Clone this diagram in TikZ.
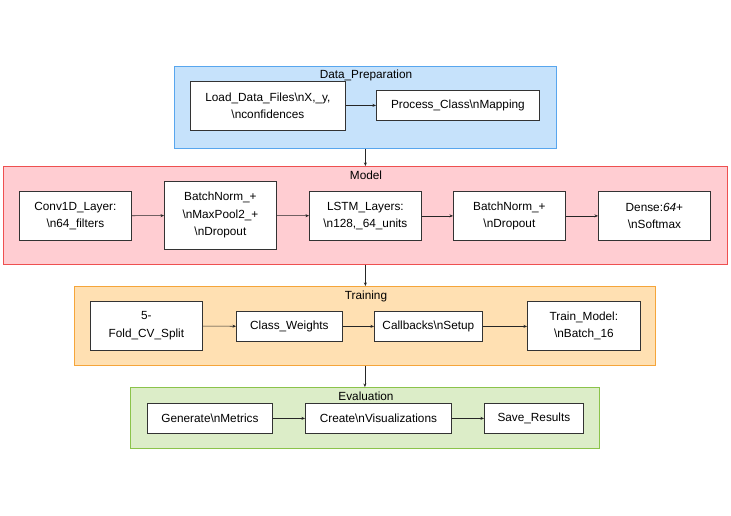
\documentclass[tikz,border=0pt]{standalone}
\usepackage{fontspec}
\setmainfont{Liberation Sans}
\usetikzlibrary{arrows.meta}
\definecolor{dpfill}{HTML}{C6E2FB}
\definecolor{dpline}{HTML}{58A6EE}
\definecolor{mfill}{HTML}{FFCDD2}
\definecolor{mline}{HTML}{EE5050}
\definecolor{tfill}{HTML}{FFE0B2}
\definecolor{tline}{HTML}{F5A53A}
\definecolor{efill}{HTML}{DCEDC8}
\definecolor{eline}{HTML}{8BC34A}
\newcommand{\bs}{\textbackslash}
\tikzset{
  cluster/.style={draw, line width=0.8pt, inner sep=0pt, anchor=north west},
  clabel/.style={font=\fontsize{11.8}{14}\selectfont, inner sep=0pt},
  box/.style={draw=black!80, fill=white, line width=0.8pt, align=center, inner sep=0pt,
    font=\fontsize{11.8}{17.5}\selectfont, anchor=north west},
  arr/.style={-{Stealth[length=3.5pt,width=3pt]}, line width=0.6pt, black!85},
}
\begin{document}
\begin{tikzpicture}[x=1pt,y=-1pt]
\useasboundingbox (0,0) rectangle (731,515);
% clusters
\node[cluster, fill=dpfill, draw=dpline, minimum width=382pt, minimum height=82pt] (dp) at (174,66) {};
\node[cluster, fill=mfill, draw=mline, minimum width=724pt, minimum height=98pt] (model) at (3,166) {};
\node[cluster, fill=tfill, draw=tline, minimum width=581pt, minimum height=79pt] (train) at (74,286) {};
\node[cluster, fill=efill, draw=eline, minimum width=469pt, minimum height=61pt] (eval) at (130,387) {};
\node[clabel] (dpl) at (366,75) {Data\_Preparation};
\node[clabel] (ml) at (366,175) {Model};
\node[clabel] (tl) at (366,296) {Training};
\node[clabel] (el) at (366,396) {Evaluation};
% Data preparation
\node[box, minimum width=155pt, minimum height=49pt] (load) at (190,81) {Load\_Data\_Files\bs nX,\_y,\\\bs nconfidences};
\node[box, minimum width=163pt, minimum height=30pt] (proc) at (376,90) {Process\_Class\bs nMapping};
% Model
\node[box, minimum width=112pt, minimum height=49pt] (conv) at (19,191) {Conv1D\_Layer:\\\bs n64\_filters};
\node[box, minimum width=112pt, minimum height=68pt] (bn1) at (164,181) {BatchNorm\_+\\\bs nMaxPool2\_+\\\bs nDropout};
\node[box, minimum width=112pt, minimum height=49pt] (lstm) at (309,191) {LSTM\_Layers:\\\bs n128,\_64\_units};
\node[box, minimum width=112pt, minimum height=49pt] (bn2) at (453,191) {BatchNorm\_+\\\bs nDropout};
\node[box, minimum width=112pt, minimum height=49pt] (dense) at (598,191) {Dense:\textit{64}+\\\bs nSoftmax};
% Training
\node[box, minimum width=112pt, minimum height=49pt] (fold) at (90,301) {5-\\Fold\_CV\_Split};
\node[box, minimum width=106pt, minimum height=30pt] (cw) at (236,311) {Class\_Weights};
\node[box, minimum width=108pt, minimum height=30pt] (cb) at (374,311) {Callbacks\bs nSetup};
\node[box, minimum width=113pt, minimum height=49pt] (tm) at (527,301) {Train\_Model:\\\bs nBatch\_16};
% Evaluation
\node[box, minimum width=125pt, minimum height=30pt] (gen) at (147,403) {Generate\bs nMetrics};
\node[box, minimum width=146pt, minimum height=30pt] (viz) at (305,403) {Create\bs nVisualizations};
\node[box, minimum width=99pt, minimum height=30pt] (save) at (484,403) {Save\_Results};
% connectors
\draw[arr] (load.east |- proc.west) -- (proc.west);
\draw[arr] (conv) -- (bn1);
\draw[arr] (bn1) -- (lstm);
\draw[arr] (lstm.east) -- (bn2.west);
\draw[arr] (bn2) -- (dense);
\draw[arr] (fold) -- (cw);
\draw[arr] (cw) -- (cb);
\draw[arr] (cb) -- (tm.west |- cb.east);
\draw[arr] (gen) -- (viz);
\draw[arr] (viz) -- (save);
\draw[arr] (dp.south) -- (dp.south |- model.north);
\draw[arr] (model.south) -- (model.south |- train.north);
\draw[arr] (train.south) -- (train.south |- eval.north);
\end{tikzpicture}
\end{document}
